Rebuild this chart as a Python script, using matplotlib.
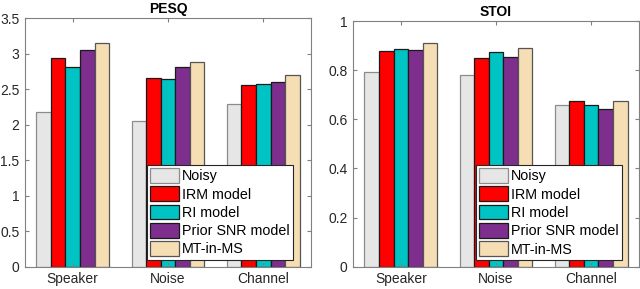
import numpy as np
import matplotlib
matplotlib.use("Agg")
import matplotlib.pyplot as plt

plt.rcParams['font.family'] = ['Liberation Sans', 'DejaVu Sans']

conditions = ["Speaker", "Noise", "Channel"]
models = ["Noisy", "IRM model", "RI model", "Prior SNR model", "MT-in-MS"]

pesq = {
    "Noisy": [2.18, 2.05, 2.30],
    "IRM model": [2.94, 2.66, 2.56],
    "RI model": [2.81, 2.65, 2.58],
    "Prior SNR model": [3.06, 2.81, 2.60],
    "MT-in-MS": [3.15, 2.88, 2.70],
}
stoi = {
    "Noisy": [0.793, 0.780, 0.658],
    "IRM model": [0.880, 0.850, 0.675],
    "RI model": [0.888, 0.875, 0.658],
    "Prior SNR model": [0.882, 0.855, 0.642],
    "MT-in-MS": [0.912, 0.890, 0.675],
}

colors = ["#e6e6e6", "#ff0000", "#00c4c4", "#7e2f8e", "#f5deb3"]
edges = ["#8c8c8c", "#1a1a1a", "#1a1a1a", "#1a1a1a", "#555555"]


def draw(ax, data, title, ylim, yticks, yticklabels, leg_x):
    x = np.arange(1, len(conditions) + 1)
    w = 0.153
    for i, m in enumerate(models):
        off = (i - 2) * w
        ax.bar(x + off, data[m], width=w, color=colors[i], edgecolor=edges[i],
               linewidth=0.9, label=m)
    ax.set_xlim(0.5, 3.5)
    ax.set_ylim(*ylim)
    ax.set_xticks(x)
    ax.set_xticklabels(conditions)
    ax.set_yticks(yticks)
    ax.set_yticklabels(yticklabels)
    ax.set_title(title, fontsize=10, fontweight='bold', pad=4)
    ax.tick_params(direction='in', top=True, right=True, length=3,
                   color='#808080', labelsize=10, labelcolor='#262626', pad=4)
    for s in ax.spines.values():
        s.set_color('#808080')
        s.set_linewidth(0.8)
    leg = ax.legend(loc='lower right', bbox_to_anchor=(leg_x, 0.027), fontsize=10.3,
                    fancybox=False, framealpha=1, edgecolor='#262626',
                    handlelength=2.0, handleheight=1.2, handletextpad=0.2,
                    labelspacing=0.22, borderpad=0.25, borderaxespad=0)
    leg.get_frame().set_linewidth(0.8)


fig = plt.figure(figsize=(6.4, 2.89), dpi=100)
ax1 = fig.add_axes([0.039, 0.077, 0.447, 0.859])
ax2 = fig.add_axes([0.552, 0.077, 0.446, 0.850])

draw(ax1, pesq, "PESQ", (0, 3.5), np.arange(0, 3.51, 0.5),
     ["0", "0.5", "1", "1.5", "2", "2.5", "3", "3.5"], 0.937)
draw(ax2, stoi, "STOI", (0, 1), np.arange(0, 1.01, 0.2),
     ["0", "0.2", "0.4", "0.6", "0.8", "1"], 0.942)

fig.savefig("out.png", dpi=100)
